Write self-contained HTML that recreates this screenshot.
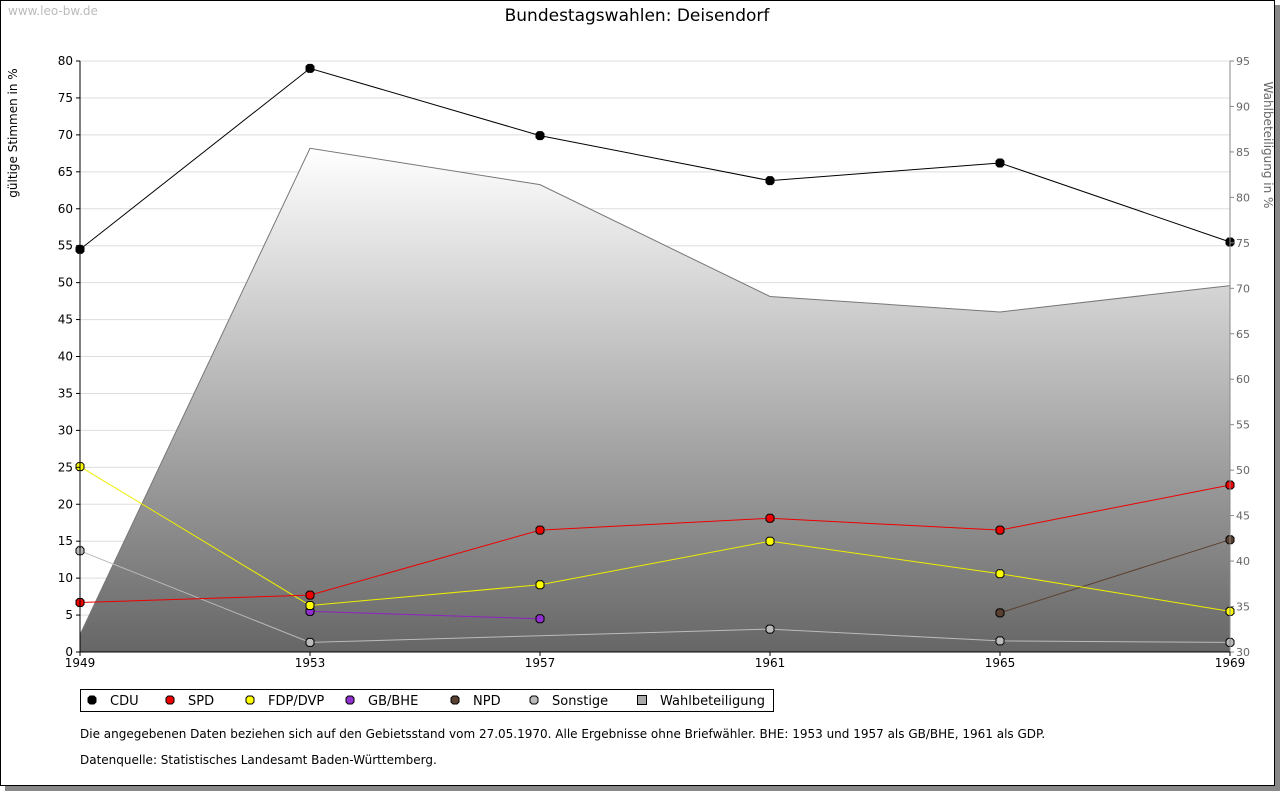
<!DOCTYPE html>
<html><head><meta charset="utf-8"><style>
body{margin:0;background:#fff;font-family:"DejaVu Sans","Liberation Sans",sans-serif;}
#frame{position:absolute;left:0;top:0;width:1273px;height:784px;border:1px solid #000;box-shadow:5px 5px 0 #888;background:#fff;}
</style></head><body>
<div id="frame"></div>
<svg id="c" width="1280" height="791" style="position:absolute;left:0;top:0" font-family="DejaVu Sans, Liberation Sans, sans-serif">
<defs><linearGradient id="g" x1="0" y1="0" x2="0" y2="1"><stop offset="0" stop-color="#fff"/><stop offset="1" stop-color="#666"/></linearGradient></defs>
<text x="8" y="15" font-size="12" fill="#bbb">www.leo-bw.de</text>
<text x="637" y="21" font-size="17" text-anchor="middle">Bundestagswahlen: Deisendorf</text>
<g id="grid"></g><g id="area"></g><g id="lines"></g><g id="axes"></g>
<text transform="translate(17,133) rotate(-90)" font-size="12" text-anchor="middle">gültige Stimmen in %</text>
<text transform="translate(1264,145) rotate(90)" font-size="12" fill="#666" text-anchor="middle">Wahlbeteiligung in %</text>
<g id="legend"></g>
<text x="80" y="738" font-size="12">Die angegebenen Daten beziehen sich auf den Gebietsstand vom 27.05.1970. Alle Ergebnisse ohne Briefwähler. BHE: 1953 und 1957 als GB/BHE, 1961 als GDP.</text>
<text x="80" y="764" font-size="12">Datenquelle: Statistisches Landesamt Baden-Württemberg.</text>
</svg>
<script>
const years=["1949","1953","1957","1961","1965","1969"];
const cdu=[54.5,79.0,69.9,63.8,66.2,55.5];
const spd=[6.7,7.7,16.5,18.1,16.5,22.6];
const fdp=[25.1,6.3,9.1,15.0,10.6,5.5];
const bhe=[null,5.5,4.5,null,null,null];
const npd=[null,null,null,null,5.3,15.2];
const sonst=[13.7,1.3,null,3.1,1.5,1.3];
const turnout=[31.9,85.4,81.4,69.1,67.4,70.3];
const yTicks=[0,5,10,15,20,25,30,35,40,45,50,55,60,65,70,75,80];
const y2Ticks=[30,35,40,45,50,55,60,65,70,75,80,85,90,95];
const NS="http://www.w3.org/2000/svg";
const X0=80,X1=1230,YT=61,YB=652;
const x=i=>X0+i*(X1-X0)/(years.length-1);
const y=v=>YB-v*(YB-YT)/80;
const y2=v=>YB-(v-30)*(YB-YT)/65;
function mk(p,t,a){const e=document.createElementNS(NS,t);for(const k in a)e.setAttribute(k,a[k]);document.getElementById(p).appendChild(e);return e;}
function dia(cx,cy){return `M${cx-2},${cy-4}L${cx+2},${cy-4}L${cx+4},${cy-2}L${cx+4},${cy+2}L${cx+2},${cy+4}L${cx-2},${cy+4}L${cx-4},${cy+2}L${cx-4},${cy-2}Z`;}
yTicks.forEach(v=>{
 const l=mk('grid','line',{x1:X0,x2:X1,y1:y(v),y2:y(v),stroke:'#ddd'});
 
 
 const t=mk('axes','text',{x:73,y:y(v)+4,'font-size':12,'text-anchor':'end'});t.textContent=v;
 
 
 mk('axes','line',{x1:X0-4,x2:X0,y1:y(v),y2:y(v),stroke:'#000'});
});
y2Ticks.forEach(v=>{
 const t=mk('axes','text',{x:1236,y:y2(v)+4,'font-size':11,fill:'#666'});t.textContent=v;
 
 
 mk('axes','line',{x1:X1,x2:X1+4,y1:y2(v),y2:y2(v),stroke:'#888'});
});
let d='M'+x(0)+','+YB;turnout.forEach((v,i)=>d+=' L'+x(i)+','+y2(v));d+=' L'+x(5)+','+YB+'Z';
const ar=mk('area','path',{d:d,fill:'url(#g)'});


const al=mk('area','polyline',{points:turnout.map((v,i)=>x(i)+','+y2(v)).join(' '),fill:'none',stroke:'#777'});


mk('axes','line',{x1:X0,x2:X0,y1:YT,y2:YB,stroke:'#000'});
mk('axes','line',{x1:X1,x2:X1,y1:YT,y2:YB,stroke:'#888'});
mk('axes','line',{x1:X0,x2:X1,y1:YB,y2:YB,stroke:'#000'});
years.forEach((yr,i)=>{
 mk('axes','line',{x1:x(i),x2:x(i),y1:YB,y2:YB+4,stroke:'#000'});
 const t=mk('axes','text',{x:x(i),y:YB+15,'font-size':12,'text-anchor':'middle'});t.textContent=yr;
 
 
});
const series=[["CDU",cdu,'#000','#000'],["SPD",spd,'#e00','#e00'],["FDP/DVP",fdp,'#ee0','#ff0'],["GB/BHE",bhe,'#9020c0','#9030d0'],["NPD",npd,'#5a4030','#5a4030'],["Sonstige",sonst,'#bbb','#bbb']];
series.slice().reverse().forEach(([n,arr,lc,fc])=>{
 const pts=[];arr.forEach((v,i)=>{if(v!=null)pts.push(x(i)+','+y(v));});
 const pl=mk('lines','polyline',{points:pts.join(' '),fill:'none',stroke:lc,'stroke-width':1});
 
 
 arr.forEach((v,i)=>{if(v==null)return;
  const m=mk('lines','path',{d:dia(x(i),y(v)),fill:fc,stroke:'#000','stroke-width':1});
  
  
 });
});
const lb=mk('legend','rect',{x:80.5,y:689.5,width:693,height:22,fill:'#fff',stroke:'#000'});


const lx=[92,170,250,350,455,534,642];
series.forEach(([n,arr,lc,fc],k)=>{
 const m=mk('legend','path',{d:dia(lx[k],700),fill:fc,stroke:'#000'});
 
 
 const t=mk('legend','text',{x:lx[k]+18,y:705,'font-size':13});t.textContent=n;
 
 
});
const sq=mk('legend','rect',{x:lx[6]-4.5,y:695.5,width:9,height:9,fill:'#aaa',stroke:'#000'});


const tw=mk('legend','text',{x:lx[6]+18,y:705,'font-size':13});tw.textContent="Wahlbeteiligung";


</script>
</body></html>
